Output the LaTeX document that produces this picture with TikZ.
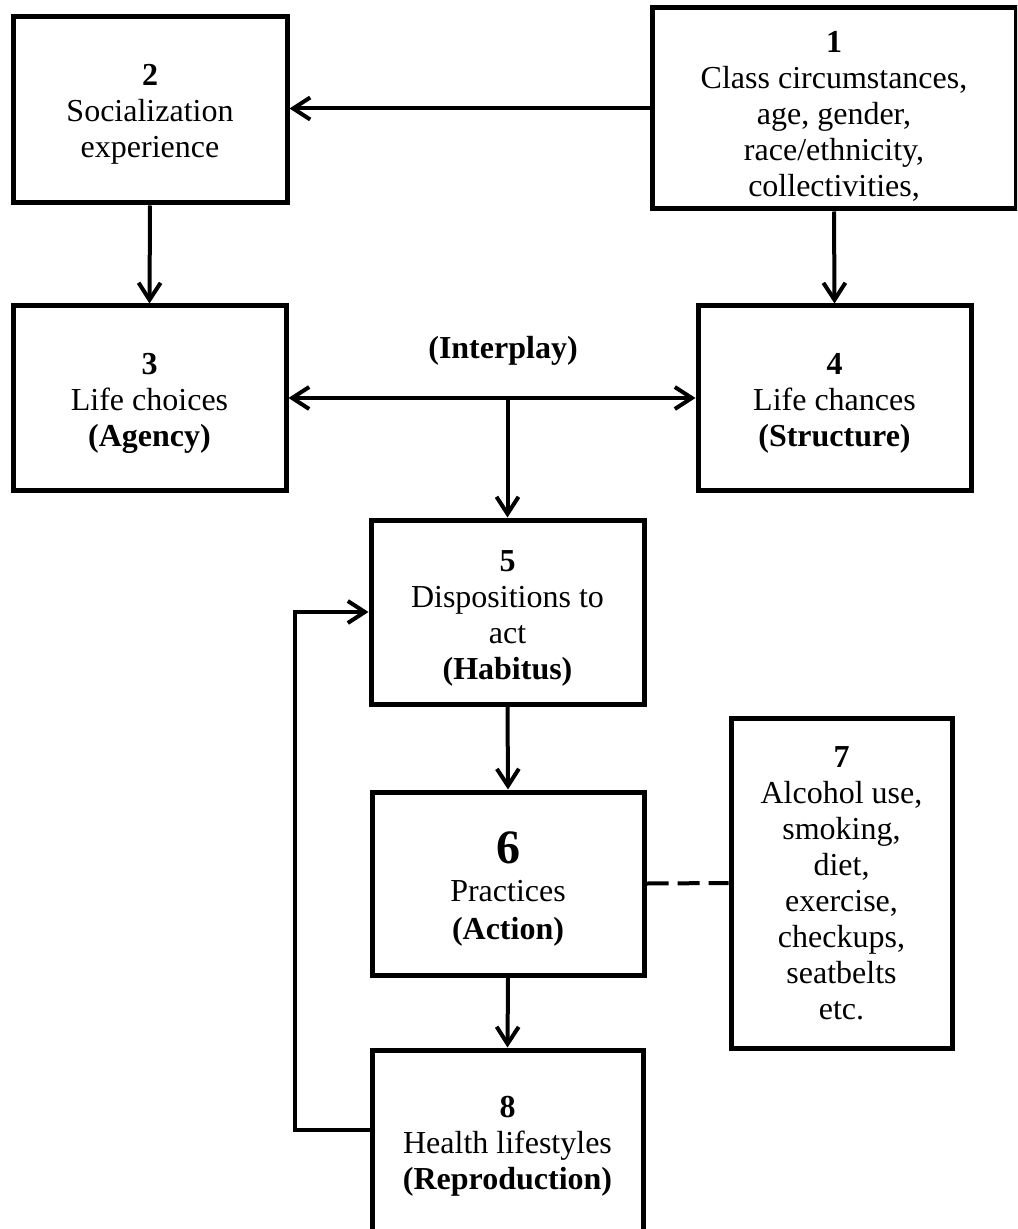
\documentclass[tikz,border=0pt]{standalone}
\usepackage{fontspec}
\setmainfont{Liberation Serif}
\usetikzlibrary{arrows.meta,calc}
\begin{document}
\begin{tikzpicture}[x=0.5pt,y=-0.5pt,
  box/.style={draw,line width=2.5pt,inner sep=0pt},
  txt/.style={inner sep=0pt,align=center,font=\fontsize{16}{18}\selectfont},
  conn/.style={line width=2pt},
  arr/.style={conn,-{Straight Barb[length=8.5pt,width=11pt]}},
  darr/.style={conn,{Straight Barb[length=8.5pt,width=11pt]}-{Straight Barb[length=8.5pt,width=11pt]}},
  lbl/.style={font=\fontsize{16}{18}\selectfont\bfseries}]
\useasboundingbox (0,0) rectangle (1017,1229);
\fill[white] (0,0) rectangle (1017,1229);
\clip (0,0) rectangle (1017,1229);

% boxes
\node[box,minimum width=182pt,minimum height=100.5pt] (b1) at (834,108.5) {};
\node[box,minimum width=137pt,minimum height=93pt] (b2) at (150,110) {};
\node[box,minimum width=136.5pt,minimum height=92pt] (b3) at (149.5,398) {};
\node[box,minimum width=136.5pt,minimum height=92pt] (b4) at (834.5,398) {};
\node[box,minimum width=136.5pt,minimum height=92pt] (b5) at (507.5,612) {};
\node[box,minimum width=136pt,minimum height=91.5pt] (b6) at (508,883.5) {};
\node[box,minimum width=110.5pt,minimum height=165pt] (b7) at (841.5,883) {};
\node[box,minimum width=135.5pt,minimum height=93pt] (b8) at (507.5,1143) {};

% texts
\node[txt] (t1) at ($(b1.center)+(0,8)$)
  {\textbf{1}\\Class circumstances,\\age, gender,\\race/ethnicity,\\collectivities,};
\node[txt] (t2) at ($(b2.center)+(0,4)$) {\textbf{2}\\Socialization\\experience};
\node[txt] (t3) at ($(b3.center)+(0,5)$) {\textbf{3}\\Life choices\\\textbf{(Agency)}};
\node[txt] (t4) at ($(b4.center)+(0,5)$) {\textbf{4}\\Life chances\\\textbf{(Structure)}};
\node[txt] (t5) at ($(b5.center)+(0,6)$) {\textbf{5}\\Dispositions to\\act\\\textbf{(Habitus)}};
\node[txt] (t6) at ($(b6.center)+(0,6)$)
  {{\fontsize{24}{26}\selectfont\bfseries 6}\\[1pt]Practices\\[1pt]\textbf{(Action)}};
\node[txt] (t7) at (b7.center)
  {\textbf{7}\\Alcohol use,\\smoking,\\diet,\\exercise,\\checkups,\\seatbelts\\etc.};
\node[txt] (t8) at ($(b8.center)+(0,3)$) {\textbf{8}\\Health lifestyles\\\textbf{(Reproduction)}};

\node[lbl] (ipl) at (503,351) {(Interplay)};

% connectors
\draw[arr] (b1.west) -- (b1.west -| b2.east);
\draw[arr] (b2.south) -- (b3.north);
\draw[arr] (b1.south) -- (b4.north);
\draw[darr] (b3.east) -- (b4.west);
\coordinate (ip) at (b5.north |- b3.east);
\draw[arr] (ip) -- (b5.north);
\draw[arr] (b5.south) -- (b6.north);
\draw[arr] (b6.south) -- (b8.north);
\draw[conn,dash pattern=on 11pt off 4.5pt] (b6.east) -- (b7.west);
\coordinate (fb) at ($(b8.west)+(0,-13)$);
\draw[arr] (fb) -- ++(-75,0) |- (b5.west);
\end{tikzpicture}
\end{document}
